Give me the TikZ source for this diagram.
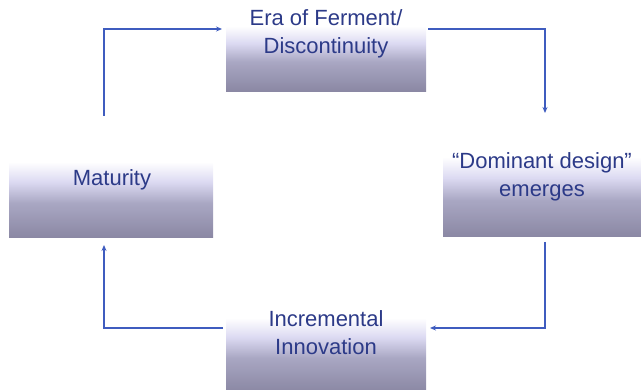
\documentclass[tikz,border=0pt]{standalone}
\usepackage{fontspec}
\setmainfont{Liberation Sans}
\usetikzlibrary{arrows.meta}
\definecolor{boxbot}{HTML}{8A87A3}
\definecolor{boxmid}{HTML}{A9A7C3}
\definecolor{boxlight}{HTML}{DCDAF2}
\definecolor{txtblue}{HTML}{2C3A88}
\definecolor{arrblue}{HTML}{3F5CBF}
\pgfdeclareverticalshading{boxshade}{100bp}{color(0bp)=(boxbot); color(25bp)=(boxbot); color(48bp)=(boxmid); color(62bp)=(boxlight); color(75bp)=(white); color(100bp)=(white)}
\tikzset{
  stagebox/.style={shade, shading=boxshade, draw=none, inner sep=0pt},
  stagetext/.style={text=txtblue, align=center, font=\fontsize{22}{28}\selectfont, inner sep=0pt},
  arr/.style={draw=arrblue, line width=1.2pt, -{Stealth[length=6pt,width=5pt]}}
}
\begin{document}
\begin{tikzpicture}[x=1pt,y=-1pt]
\useasboundingbox (0,0) rectangle (641,390);
% boxes
\node[stagebox, minimum width=200pt, minimum height=66pt] (topbox) at (326,59) {};
\node[stagebox, minimum width=204pt, minimum height=76pt] (matbox) at (111,200) {};
\node[stagebox, minimum width=200pt, minimum height=80pt] (rightbox) at (543,197) {};
\node[stagebox, minimum width=200pt, minimum height=74pt] (botbox) at (326,355) {};
% texts
\node[stagetext] (toptext) at (326,34) {Era of Ferment/\\Discontinuity};
\node[stagetext] (mattext) at (112,180) {Maturity};
\node[stagetext] (righttext) at (542,177) {“Dominant design”\\emerges};
\node[stagetext] (bottext) at (326,333) {Incremental\\Innovation};
% connector end points
\coordinate (a1) at (104,116);
\coordinate (a2) at (222,29);
\coordinate (b1) at (428,29);
\coordinate (b2) at (545,113);
\coordinate (c1) at (545,242);
\coordinate (c2) at (430,328);
\coordinate (d1) at (223,328);
\coordinate (d2) at (104,245);
% connectors
\draw[arr] (a1) |- (a2);
\draw[arr] (b1) -| (b2);
\draw[arr] (c1) |- (c2);
\draw[arr] (d1) -| (d2);
\end{tikzpicture}
\end{document}
